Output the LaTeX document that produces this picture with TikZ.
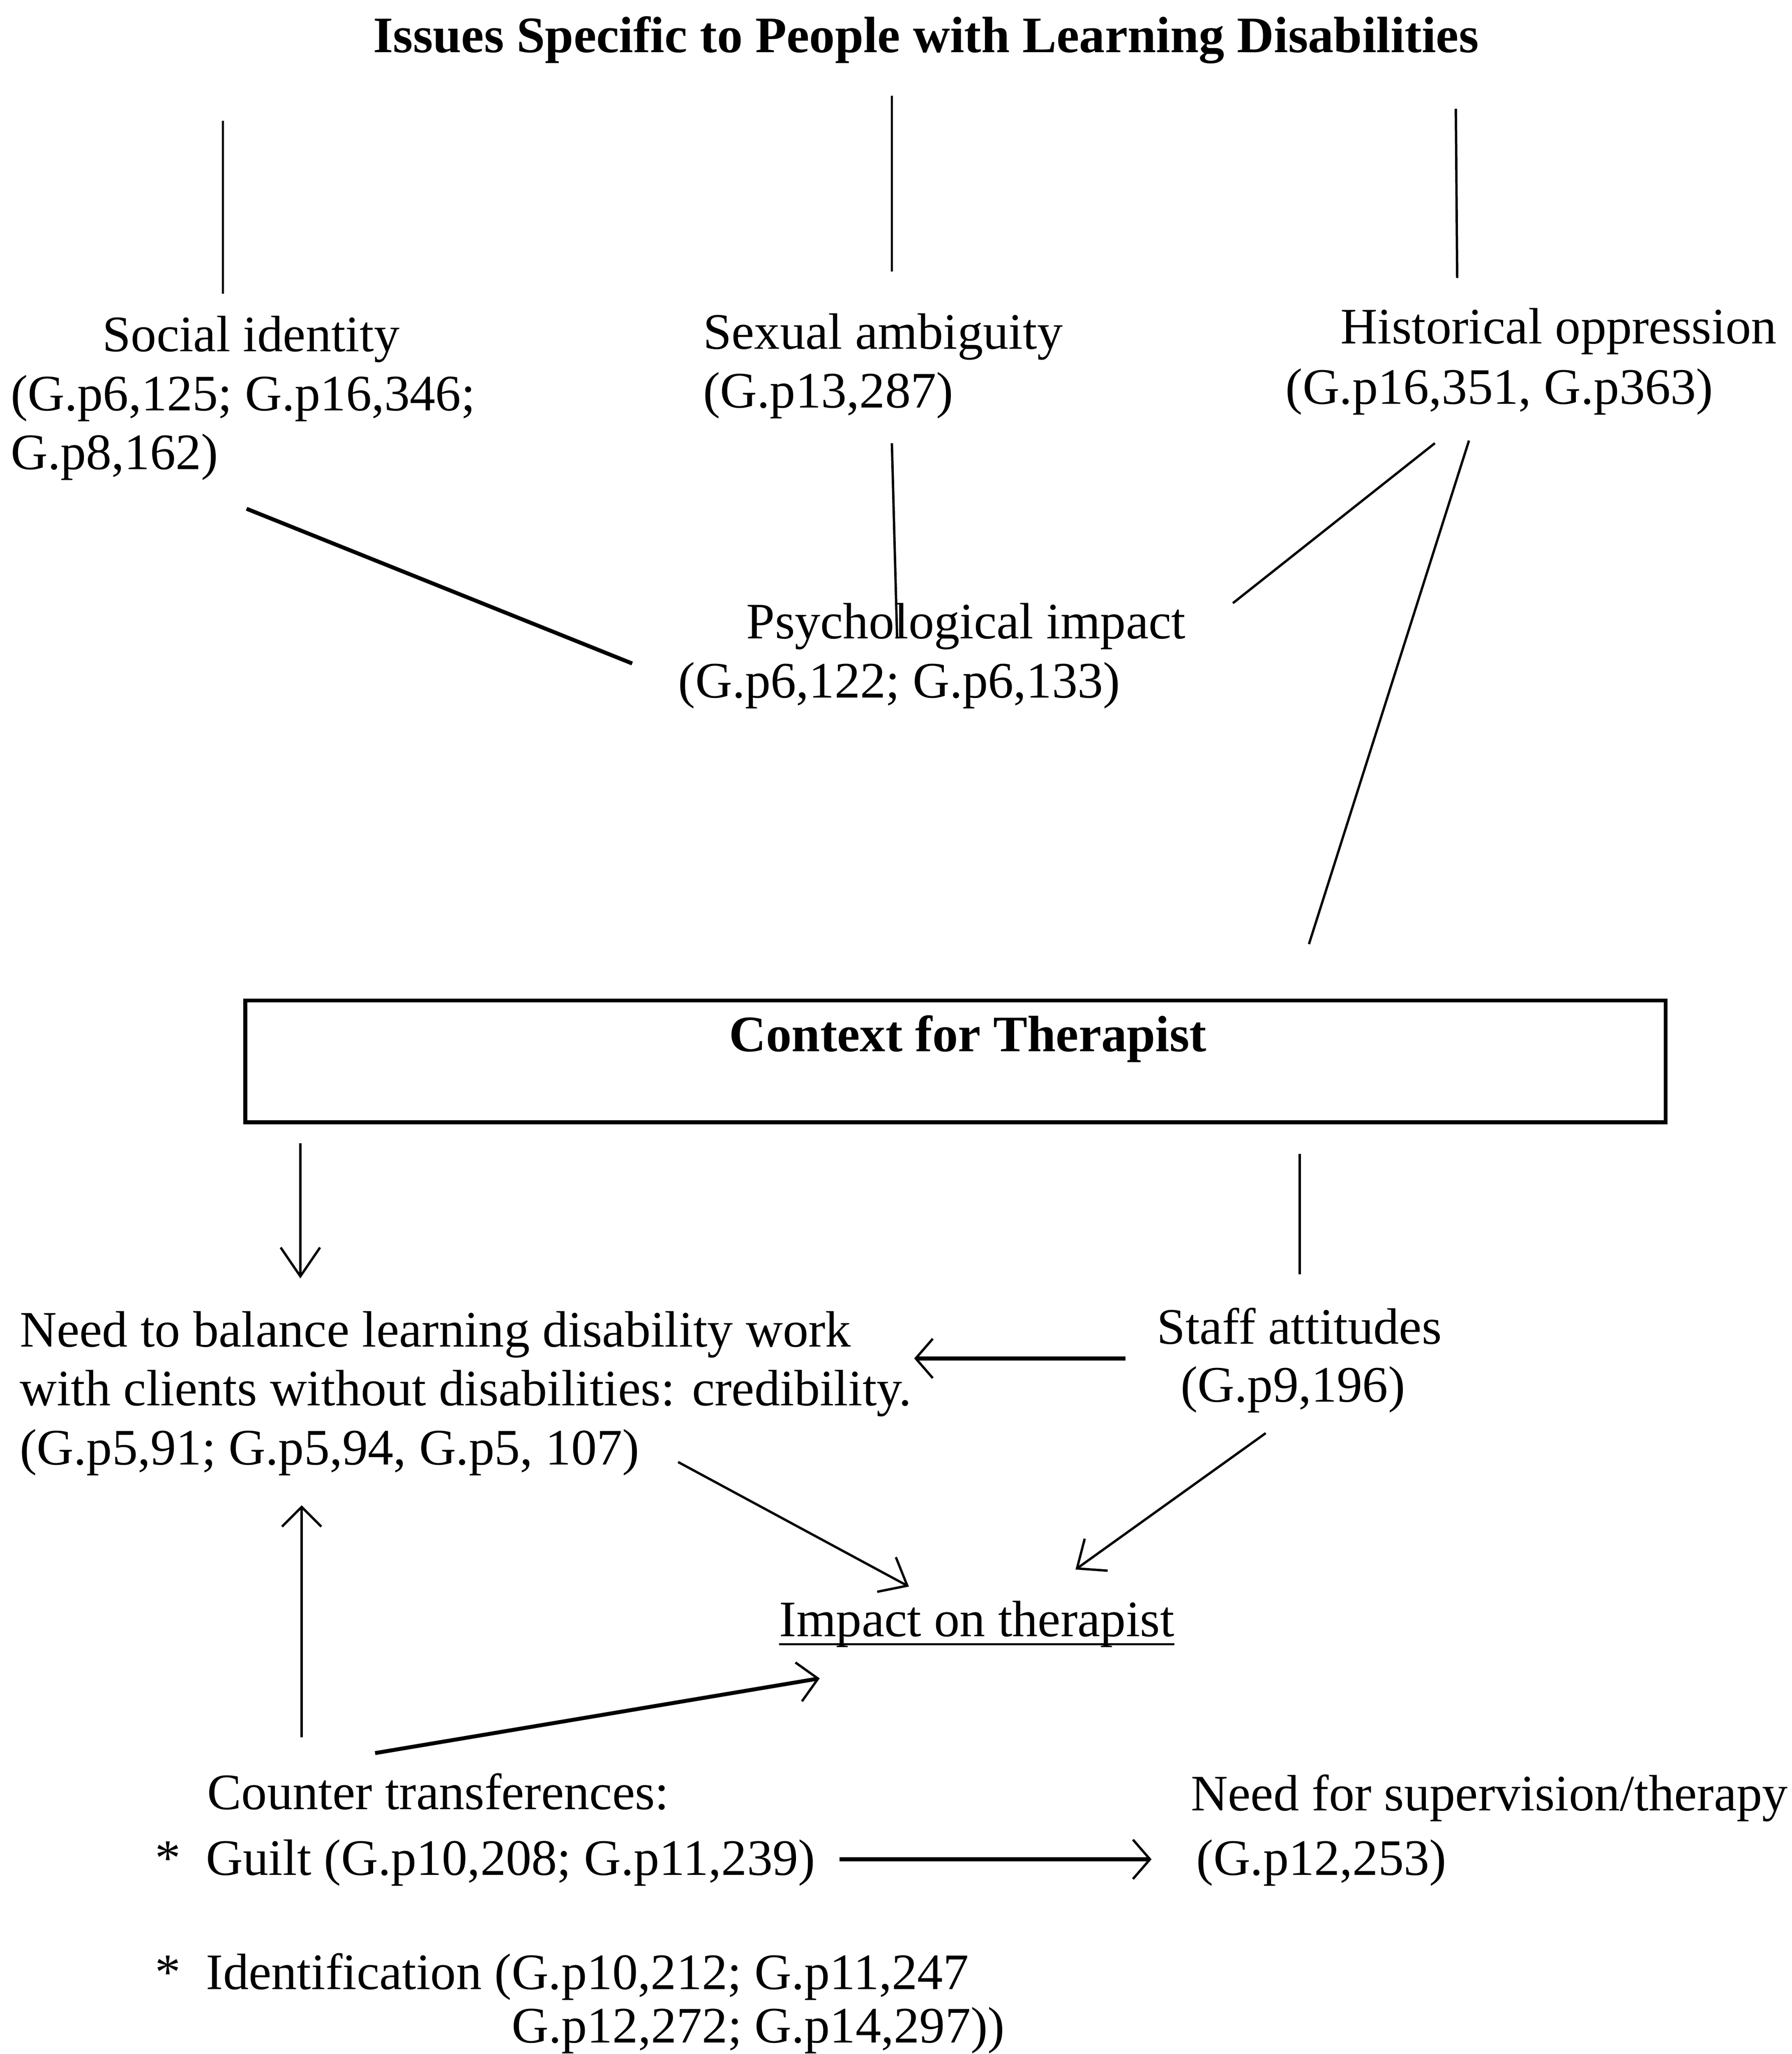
\documentclass[tikz,border=0pt]{standalone}
\usepackage{fontspec}
\setmainfont{Liberation Serif}
\usetikzlibrary{arrows.meta}
\begin{document}
\begin{tikzpicture}[x=1pt,y=-1pt,
  txt/.style={anchor=base west, inner sep=0pt, font=\fontsize{39}{45}\selectfont},
  btxt/.style={anchor=base, inner sep=0pt, font=\fontsize{39}{45}\selectfont\bfseries},
  ln/.style={line width=1.8pt},
  lnt/.style={line width=3pt},
  head/.style={-{Straight Barb[length=#1,width=30pt,line width=1.8pt]}},
  head/.default=15pt,
]
\useasboundingbox (0,0) rectangle (1366,1566.5);
% title
\node[btxt] (title) at (706,40) {Issues Specific to People with Learning Disabilities};
% top level issues
\node[txt] (soc1) at (78,268) {Social identity};
\node[txt] (soc2) at (8,313) {(G.p6,125; G.p16,346;};
\node[txt] (soc3) at (8,358) {G.p8,162)};
\node[txt] (sex1) at (536,266) {Sexual ambiguity};
\node[txt] (sex2) at (536,311) {(G.p13,287)};
\node[txt] (his1) at (1022,262) {Historical oppression};
\node[txt] (his2) at (980,308) {(G.p16,351, G.p363)};
\node[txt] (psy1) at (569,487) {Psychological impact};
\node[txt] (psy2) at (517,532) {(G.p6,122; G.p6,133)};
% top vertical lines
\coordinate (ts1) at (170,92);  \coordinate (bs1) at (170,224);
\coordinate (ts2) at (680,73);  \coordinate (bs2) at (680,207);
\coordinate (ts3) at (1110,83); \coordinate (bs3) at (1111,212);
\draw[ln] (ts1) -- (bs1);
\draw[ln] (ts2) -- (bs2);
\draw[ln] (ts3) -- (bs3);
% links to psychological impact
\coordinate (a1) at (188,388); \coordinate (a2) at (482,506);
\draw[lnt] (a1) -- (a2);
\coordinate (b1) at (680,338); \coordinate (b2) at (684,487);
\draw[ln] (b1) -- (b2);
\coordinate (c1) at (1094,338); \coordinate (c2) at (940,460);
\draw[ln] (c1) -- (c2);
\coordinate (d1) at (1120,336); \coordinate (d2) at (998,720);
\draw[ln] (d1) -- (d2);
% context box
\node[draw, line width=3pt, minimum width=1083pt, minimum height=93pt, inner sep=0pt] (ctx) at (728.5,809.5) {};
\node[btxt] (ctxt) at (738,802) {Context for Therapist};
% middle section
\coordinate (e1) at (229,872); \coordinate (e2) at (229,975);
\draw[ln, head=22pt] (e1) -- (e2);
\coordinate (f1) at (991,880); \coordinate (f2) at (991,972);
\draw[ln] (f1) -- (f2);
\node[txt] (bal1) at (15,1027) {Need to balance learning disability work};
\node[txt] (bal2) at (15,1072) {with clients without disabilities: credibility.};
\node[txt] (bal3) at (15,1117) {(G.p5,91; G.p5,94, G.p5, 107)};
\node[txt] (stf1) at (882,1025) {Staff attitudes};
\node[txt] (stf2) at (900,1069) {(G.p9,196)};
\coordinate (g1) at (858,1036); \coordinate (g2) at (697,1036);
\draw[lnt, head=13pt] (g1) -- (g2);
\node[txt] (imp) at (594,1248) {Impact on therapist};
\draw[ln] ([yshift=-6pt]imp.base west) -- ([yshift=-6pt]imp.base east);
\coordinate (h1) at (517,1115); \coordinate (h2) at (693,1210);
\draw[ln, head=18pt] (h1) -- (h2);
\coordinate (i1) at (965,1093); \coordinate (i2) at (820,1197);
\draw[ln, head=18pt] (i1) -- (i2);
\coordinate (j1) at (230,1325); \coordinate (j2) at (230,1148);
\draw[ln, head=15pt] (j1) -- (j2);
\coordinate (k1) at (286,1337); \coordinate (k2) at (625,1280);
\draw[lnt, head=15pt] (k1) -- (k2);
% bottom section
\node[txt] (ct) at (158,1380) {Counter transferences:};
\node[txt] (gui) at (118,1430) {*\ \ Guilt (G.p10,208; G.p11,239)};
\node[txt] (sup1) at (908,1381) {Need for supervision/therapy};
\node[txt] (sup2) at (912,1430) {(G.p12,253)};
\coordinate (l1) at (640,1418); \coordinate (l2) at (878,1418);
\draw[lnt, head=13pt] (l1) -- (l2);
\node[txt] (idf1) at (118,1517) {*\ \ Identification (G.p10,212; G.p11,247};
\node[txt] (idf2) at (390,1558) {G.p12,272; G.p14,297))};
\end{tikzpicture}
\end{document}
